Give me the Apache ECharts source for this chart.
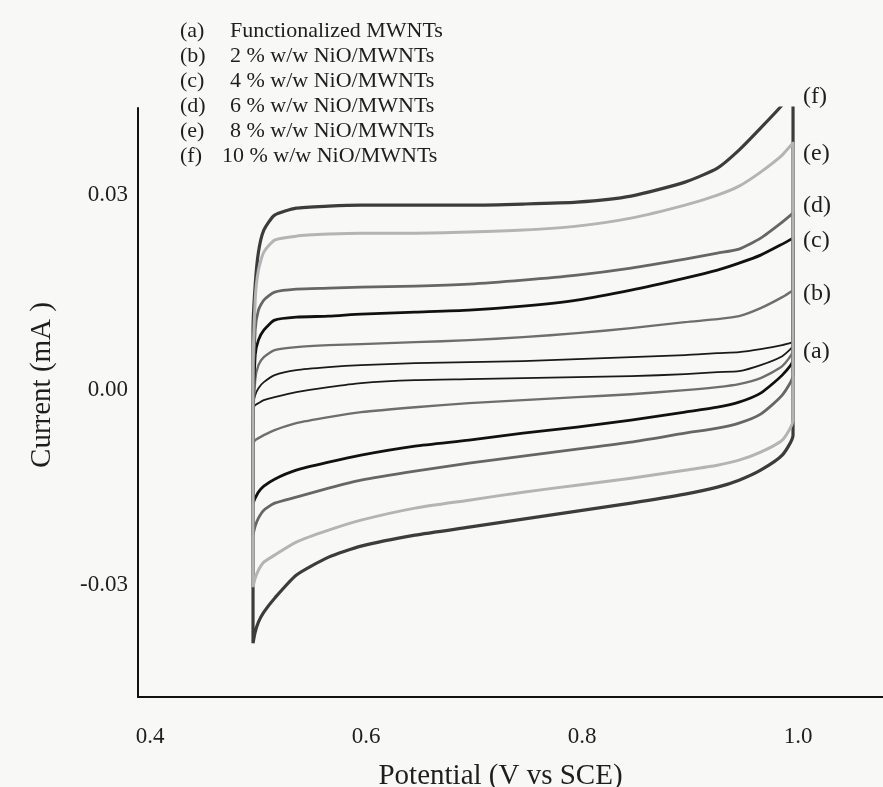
<!DOCTYPE html>
<html>
<head>
<meta charset="utf-8">
<script src="https://cdn.jsdelivr.net/npm/echarts@6/dist/echarts.min.js"></script>
<style>
  html, body { margin: 0; padding: 0; background: #f8f8f7; }
  #chart { width: 883px; height: 787px; }
</style>
</head>
<body>
<div id="chart"></div>
<script>
// Cyclic voltammograms of NiO/MWNT electrodes, 0.5 – 1.0 V vs SCE

// Potential grid shared by every branch (V vs SCE)
const potential = [0.500, 0.502, 0.505, 0.51, 0.52, 0.54, 0.57, 0.60, 0.65, 0.70, 0.75, 0.80, 0.85, 0.90, 0.93, 0.95, 0.97, 0.99, 1.00];

// Anodic (forward) and cathodic (reverse) currents in mA, one pair per electrode
const aUpper = [-0.00231, -0.00077, 0.00031, 0.00123, 0.00231, 0.00308, 0.00354, 0.00385, 0.00415, 0.00431, 0.00446, 0.00477, 0.00508, 0.00538, 0.00569, 0.00585, 0.00631, 0.00692, 0.00738];
const aLower = [-0.00277, -0.00231, -0.0020, -0.00154, -0.00108, -0.00031, 0.00046, 0.00108, 0.00154, 0.00169, 0.00185, 0.0020, 0.00215, 0.00246, 0.00277, 0.00292, 0.00385, 0.00523, 0.00692];

const bUpper = [-0.00615, 0.00154, 0.00385, 0.00508, 0.00615, 0.00662, 0.00692, 0.00708, 0.00738, 0.00769, 0.00815, 0.00877, 0.00954, 0.01046, 0.01092, 0.01138, 0.01262, 0.01431, 0.01538];
const bLower = [-0.00815, -0.00769, -0.00738, -0.00692, -0.00615, -0.00508, -0.00415, -0.00338, -0.00262, -0.0020, -0.00154, -0.00108, -0.00062, 0, 0.00046, 0.00092, 0.00185, 0.00369, 0.00615];

const cUpper = [-0.00462, 0.00538, 0.00769, 0.00923, 0.01077, 0.01123, 0.01138, 0.01169, 0.0120, 0.01231, 0.01292, 0.01385, 0.01538, 0.01723, 0.01846, 0.01954, 0.02077, 0.02246, 0.02338];
const cLower = [-0.01738, -0.01662, -0.01569, -0.01477, -0.01369, -0.01231, -0.01108, -0.0100, -0.00862, -0.00769, -0.00662, -0.00569, -0.00462, -0.00338, -0.00262, -0.00185, -0.00046, 0.00231, 0.00462];

const dUpper = [-0.00154, 0.00923, 0.01231, 0.01385, 0.01508, 0.01554, 0.01569, 0.01585, 0.0160, 0.01631, 0.01692, 0.01769, 0.01877, 0.02015, 0.02108, 0.02169, 0.02338, 0.02585, 0.02723];
const dLower = [-0.02231, -0.02092, -0.01969, -0.01846, -0.01738, -0.01646, -0.01508, -0.01385, -0.01246, -0.01123, -0.01015, -0.00908, -0.0080, -0.00662, -0.00585, -0.00508, -0.00369, -0.00077, 0.00231];

const eUpper = [0.00154, 0.01385, 0.01846, 0.02123, 0.02308, 0.02369, 0.0240, 0.02415, 0.02415, 0.02431, 0.02462, 0.02523, 0.02646, 0.02846, 0.0300, 0.03138, 0.03354, 0.03615, 0.0380];
const eLower = [-0.03031, -0.02892, -0.02769, -0.02646, -0.02538, -0.02338, -0.02154, -0.0200, -0.01815, -0.01692, -0.01569, -0.01462, -0.01354, -0.01231, -0.01154, -0.01077, -0.00954, -0.00769, -0.00462];

const fUpper = [0.00923, 0.01615, 0.02123, 0.02462, 0.02692, 0.0280, 0.02831, 0.02846, 0.02846, 0.02846, 0.02862, 0.02892, 0.02985, 0.0320, 0.03415, 0.03692, 0.04031, 0.04385, 0.04615];
const fLower = [-0.03892, -0.03723, -0.03569, -0.03415, -0.0320, -0.02846, -0.02569, -0.0240, -0.02231, -0.02108, -0.01985, -0.01862, -0.01738, -0.0160, -0.01492, -0.01385, -0.01231, -0.0100, -0.00692];

// Curve tags and legend text
const curveTags = ['(a)', '(b)', '(c)', '(d)', '(e)', '(f)'];
const legendText = ['Functionalized MWNTs', '2 % w/w NiO/MWNTs', '4 % w/w NiO/MWNTs', '6 % w/w NiO/MWNTs', '8 % w/w NiO/MWNTs', '10 % w/w NiO/MWNTs'];

// Axis tick labels
const xTicks = [0.4, 0.6, 0.8, 1.0];
const yTicks = [-0.03, 0.00, 0.03];

const SERIF = '"Liberation Serif", "DejaVu Serif", serif';
const INK = '#1e1e1e';

// Closed loop: bottom-left -> forward sweep -> vertical at 1.0 V -> reverse sweep
function loop(upper, lower) {
  const pts = [[potential[0], lower[0]]];
  for (let i = 0; i < potential.length; i++) pts.push([potential[i], upper[i]]);
  for (let i = potential.length - 1; i >= 0; i--) pts.push([potential[i], lower[i]]);
  return pts;
}

const curves = [
  { tag: '(a)', up: aUpper, lo: aLower, color: '#1a1a1a', width: 1.8 },
  { tag: '(b)', up: bUpper, lo: bLower, color: '#6e6e6e', width: 2.4 },
  { tag: '(c)', up: cUpper, lo: cLower, color: '#111111', width: 2.8 },
  { tag: '(d)', up: dUpper, lo: dLower, color: '#666666', width: 2.8 },
  { tag: '(f)', up: fUpper, lo: fLower, color: '#3c3c3c', width: 3.2 },
  { tag: '(e)', up: eUpper, lo: eLower, color: '#b4b4b4', width: 3.0 }
];

// Tag positions beside the right edge of the loops (pixel centres)
const tagY = { '(f)': 98, '(e)': 155, '(d)': 207, '(c)': 242, '(b)': 295, '(a)': 353 };

const graphics = [];
curveTags.forEach((t) => {
  graphics.push({
    type: 'text', left: 803, top: tagY[t] - 13,
    style: { text: t, font: '24px ' + SERIF, fill: INK }
  });
});
legendText.forEach((txt, i) => {
  const cy = 32 + i * 25;
  graphics.push({
    type: 'text', left: 180, top: cy - 12,
    style: { text: curveTags[i], font: '22px ' + SERIF, fill: INK }
  });
  graphics.push({
    type: 'text', left: /^\d\d/.test(txt) ? 222 : 230, top: cy - 12,
    style: { text: txt, font: '22px ' + SERIF, fill: INK }
  });
});
// Vertical axis title
graphics.push({
  type: 'text', x: 42, y: 385, rotation: Math.PI / 2,
  style: { text: 'Current (mA )', font: '29px ' + SERIF, fill: INK, align: 'center', verticalAlign: 'middle' }
});

const chart = echarts.init(document.getElementById('chart'), null, { renderer: 'canvas' });
chart.setOption({
  backgroundColor: '#f8f8f7',
  animation: false,
  grid: { left: 138, right: 0, top: 108, bottom: 90, containLabel: false, outerBoundsMode: 'none' },
  xAxis: {
    type: 'value', min: 0.3935, max: 1.0833,
    name: 'Potential (V vs SCE)', nameLocation: 'middle', nameGap: 65,
    nameTextStyle: { fontFamily: SERIF, fontSize: 29, color: INK, padding: [0, 20, 0, 0] },
    axisLine: { show: true, onZero: false, lineStyle: { color: '#111', width: 2 } },
    axisTick: { show: false },
    splitLine: { show: false },
    axisLabel: {
      customValues: xTicks, formatter: (v) => v.toFixed(1),
      margin: 28, fontFamily: SERIF, fontSize: 23, color: INK, padding: [0, 0, 0, 10]
    }
  },
  yAxis: {
    type: 'value', min: -0.0472, max: 0.0434,
    axisLine: { show: true, onZero: false, lineStyle: { color: '#111', width: 2 } },
    axisTick: { show: false },
    splitLine: { show: false },
    axisLabel: {
      customValues: yTicks, formatter: (v) => v.toFixed(2),
      margin: 10, fontFamily: SERIF, fontSize: 23, color: INK
    }
  },
  graphic: graphics,
  series: curves.map((c) => ({
    type: 'line', name: c.tag, data: loop(c.up, c.lo),
    showSymbol: false, smooth: 0.2, silent: true,
    lineStyle: { color: c.color, width: c.width, join: 'round' }
  }))
});
</script>
</body>
</html>
